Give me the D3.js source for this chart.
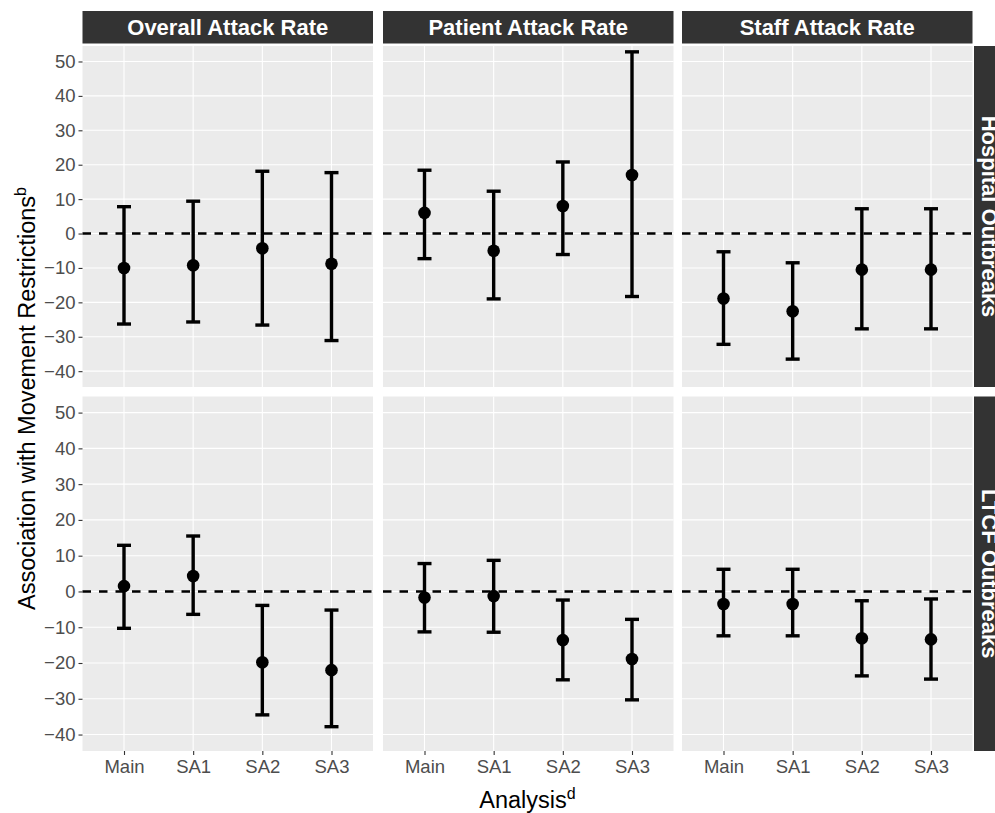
<!DOCTYPE html>
<html>
<head>
<meta charset="utf-8">
<script src="https://cdn.jsdelivr.net/npm/d3@7"></script>
<style>
  body { margin: 0; background: #fff; }
  svg { display: block; font-family: "Liberation Sans", Arial, sans-serif; }
</style>
</head>
<body>
<script>
// categories
var analyses = ["Main", "SA1", "SA2", "SA3"];
var measures = ["Overall Attack Rate", "Patient Attack Rate", "Staff Attack Rate"];
var settings = ["Hospital Outbreaks", "LTCF Outbreaks"];
var yTicks = [-40, -30, -20, -10, 0, 10, 20, 30, 40, 50];

// estimates and confidence limits, one row per measure (Overall, Patient, Staff)
var hospitalEst  = [[-10.0, -9.2, -4.3, -8.8], [6.0, -5.0, 8.0, 17.0], [-18.9, -22.6, -10.5, -10.5]];
var hospitalLow  = [[-26.3, -25.7, -26.6, -31.1], [-7.3, -19.0, -6.1, -18.3], [-32.2, -36.5, -27.7, -27.7]];
var hospitalHigh = [[7.8, 9.4, 18.1, 17.7], [18.4, 12.3, 20.8, 52.8], [-5.3, -8.5, 7.2, 7.2]];

var ltcfEst  = [[1.5, 4.3, -19.8, -22.0], [-1.7, -1.3, -13.6, -18.9], [-3.5, -3.5, -13.1, -13.4]];
var ltcfLow  = [[-10.3, -6.4, -34.5, -37.8], [-11.3, -11.4, -24.7, -30.3], [-12.4, -12.4, -23.6, -24.5]];
var ltcfHigh = [[12.9, 15.5, -3.9, -5.2], [7.8, 8.7, -2.4, -7.8], [6.2, 6.2, -2.6, -2.1]];

var est = [hospitalEst, ltcfEst], low = [hospitalLow, ltcfLow], high = [hospitalHigh, ltcfHigh];

// layout
var W = 995, H = 813;
var colLeft = [82.5, 383, 682], panelW = 290.5;
var rowTop = [46, 396.5], rowBottom = [387, 751];
var stripTop = 11, stripBottom = 43.5;
var rightStripX = 974, stripSize = 32;

var svg = d3.select("body").append("svg")
    .attr("width", W)
    .attr("height", H)
    .style("overflow", "hidden");

var x = d3.scalePoint().domain(analyses).range([0, panelW]).padding(0.6);

settings.forEach(function (setting, r) {
  var y = d3.scaleLinear().domain([-44.6, 54.5]).range([rowBottom[r], rowTop[r]]);

  measures.forEach(function (measure, c) {
    var g = svg.append("g").attr("transform", "translate(" + colLeft[c] + ",0)");

    // panel background
    g.append("rect")
        .attr("x", 0).attr("y", rowTop[r])
        .attr("width", panelW).attr("height", rowBottom[r] - rowTop[r])
        .attr("fill", "#EBEBEB");

    // grid
    g.selectAll(".hgrid").data(yTicks).enter().append("line")
        .attr("x1", 0).attr("x2", panelW)
        .attr("y1", function (d) { return y(d); })
        .attr("y2", function (d) { return y(d); })
        .attr("stroke", "#fff").attr("stroke-width", 1.1);
    g.selectAll(".vgrid").data(analyses).enter().append("line")
        .attr("x1", function (d) { return x(d); })
        .attr("x2", function (d) { return x(d); })
        .attr("y1", rowTop[r]).attr("y2", rowBottom[r])
        .attr("stroke", "#fff").attr("stroke-width", 1.1);

    // reference line at 0
    g.append("line")
        .attr("x1", 0).attr("x2", panelW)
        .attr("y1", y(0)).attr("y2", y(0))
        .attr("stroke", "#000").attr("stroke-width", 2.4)
        .attr("stroke-dasharray", "8.5,8");

    var rows = analyses.map(function (a, i) {
      return { a: a, est: est[r][c][i], lo: low[r][c][i], hi: high[r][c][i] };
    });

    // error bars
    var eb = g.selectAll(".eb").data(rows).enter().append("g");
    eb.append("line")
        .attr("x1", function (d) { return x(d.a); })
        .attr("x2", function (d) { return x(d.a); })
        .attr("y1", function (d) { return y(d.lo); })
        .attr("y2", function (d) { return y(d.hi); })
        .attr("stroke", "#000").attr("stroke-width", 3.4);
    ["lo", "hi"].forEach(function (k) {
      eb.append("line")
          .attr("x1", function (d) { return x(d.a) - 7; })
          .attr("x2", function (d) { return x(d.a) + 7; })
          .attr("y1", function (d) { return y(d[k]); })
          .attr("y2", function (d) { return y(d[k]); })
          .attr("stroke", "#000").attr("stroke-width", 3.4);
    });

    // points
    g.selectAll(".pt").data(rows).enter().append("circle")
        .attr("cx", function (d) { return x(d.a); })
        .attr("cy", function (d) { return y(d.est); })
        .attr("r", 6.3)
        .attr("fill", "#000");

    // y axis on left column
    if (c === 0) {
      var ya = g.append("g")
          .call(d3.axisLeft(y).tickValues(yTicks).tickSize(4).tickPadding(3));
      ya.select(".domain").remove();
      ya.selectAll("line").attr("stroke", "#333").attr("stroke-width", 1.1);
      ya.selectAll("text").attr("fill", "#4D4D4D").style("font-size", "18.5px");
    }

    // x axis on bottom row
    if (r === settings.length - 1) {
      var xa = g.append("g")
          .attr("transform", "translate(0," + rowBottom[r] + ")")
          .call(d3.axisBottom(x).tickSize(4).tickPadding(5));
      xa.select(".domain").remove();
      xa.selectAll("line").attr("stroke", "#333").attr("stroke-width", 1.1);
      xa.selectAll("text").attr("fill", "#4D4D4D").style("font-size", "18.5px");
    }

    // top strips
    if (r === 0) {
      g.append("rect")
          .attr("x", 0).attr("y", stripTop)
          .attr("width", panelW).attr("height", stripBottom - stripTop)
          .attr("fill", "#333333");
      g.append("text")
          .attr("x", panelW / 2).attr("y", (stripTop + stripBottom) / 2 + 8)
          .attr("text-anchor", "middle")
          .attr("fill", "#fff")
          .style("font-size", "22px").style("font-weight", "bold")
          .text(measure);
    }
  });

  // right strips
  svg.append("rect")
      .attr("x", rightStripX).attr("y", rowTop[r])
      .attr("width", stripSize).attr("height", rowBottom[r] - rowTop[r])
      .attr("fill", "#333333");
  svg.append("text")
      .attr("transform", "translate(" + (rightStripX + stripSize / 2 - 8) + "," + ((rowTop[r] + rowBottom[r]) / 2) + ") rotate(90)")
      .attr("text-anchor", "middle")
      .attr("fill", "#fff")
      .style("font-size", "22px").style("font-weight", "bold")
      .text(setting);
});

// axis titles
var yt = svg.append("text")
    .attr("transform", "translate(35," + ((rowTop[0] + rowBottom[1]) / 2) + ") rotate(-90)")
    .attr("text-anchor", "middle")
    .attr("fill", "#000")
    .style("font-size", "23.5px");
yt.append("tspan").text("Association with Movement Restrictions");
yt.append("tspan").attr("dy", "-0.55em").style("font-size", "16px").text("b");

var xt = svg.append("text")
    .attr("x", (colLeft[0] + colLeft[2] + panelW) / 2)
    .attr("y", 808)
    .attr("text-anchor", "middle")
    .attr("fill", "#000")
    .style("font-size", "23.5px");
xt.append("tspan").text("Analysis");
xt.append("tspan").attr("dy", "-0.55em").style("font-size", "16px").text("d");
</script>
</body>
</html>
